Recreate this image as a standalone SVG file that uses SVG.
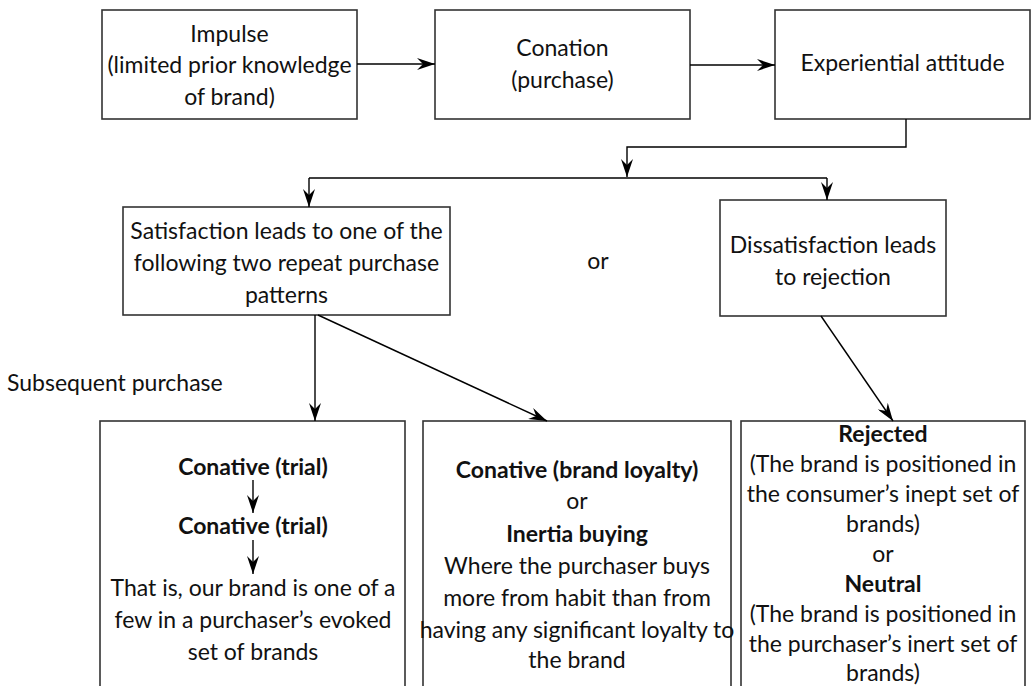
<svg xmlns="http://www.w3.org/2000/svg" width="1032" height="686" viewBox="0 0 1032 686">
<defs>
<marker id="ah" markerUnits="userSpaceOnUse" markerWidth="18" markerHeight="12" viewBox="0 0 18 12" refX="18" refY="6" orient="auto">
<path d="M0,0 L18,6 L0,12 L6,6 Z" fill="#000"/>
</marker>
<style>
.box{fill:#fff;stroke:#333;stroke-width:1.6}
.t{font-family:Lato,"Open Sans","Liberation Sans",sans-serif;font-size:23px;fill:#111;text-anchor:middle}
.b{font-weight:bold}
.l{text-anchor:start}
.c{fill:none;stroke:#000;stroke-width:1.4}
.a{marker-end:url(#ah)}
</style>
</defs>
<rect width="1032" height="686" fill="#fff"/>
<g id="impulse">
<rect class="box" x="102" y="10" width="255" height="109"/>
<text class="t" x="229.5" y="42">Impulse</text>
<text class="t" x="229.5" y="73">(limited prior knowledge</text>
<text class="t" x="229.5" y="105">of brand)</text>
</g>
<g id="conation">
<rect class="box" x="435" y="10" width="255" height="109"/>
<text class="t" x="562.5" y="56">Conation</text>
<text class="t" x="562.5" y="88">(purchase)</text>
</g>
<g id="experiential">
<rect class="box" x="775" y="10" width="255" height="109"/>
<text class="t" x="902.5" y="71">Experiential attitude</text>
</g>
<g id="satisfaction">
<rect class="box" x="123" y="207" width="327" height="108"/>
<text class="t" x="286.5" y="239">Satisfaction leads to one of the</text>
<text class="t" x="286.5" y="271">following two repeat purchase</text>
<text class="t" x="286.5" y="303">patterns</text>
</g>
<g id="or-label">
<text class="t" x="598" y="269">or</text>
</g>
<g id="dissatisfaction">
<rect class="box" x="720" y="200" width="226" height="116"/>
<text class="t" x="833" y="253">Dissatisfaction leads</text>
<text class="t" x="833" y="285">to rejection</text>
</g>
<g id="subsequent-label">
<text class="t l" x="7" y="391">Subsequent purchase</text>
</g>
<g id="trial">
<rect class="box" x="100" y="421" width="305" height="290"/>
<text class="t b" x="253" y="475">Conative (trial)</text>
<text class="t b" x="253" y="534">Conative (trial)</text>
<text class="t" x="253" y="596">That is, our brand is one of a</text>
<text class="t" x="253" y="628">few in a purchaser’s evoked</text>
<text class="t" x="253" y="660">set of brands</text>
</g>
<g id="loyalty">
<rect class="box" x="423" y="421" width="308" height="290"/>
<text class="t b" x="577" y="478">Conative (brand loyalty)</text>
<text class="t" x="577" y="509">or</text>
<text class="t b" x="577" y="542">Inertia buying</text>
<text class="t" x="577" y="574">Where the purchaser buys</text>
<text class="t" x="577" y="606">more from habit than from</text>
<text class="t" x="577" y="638">having any significant loyalty to</text>
<text class="t" x="577" y="668">the brand</text>
</g>
<g id="rejected">
<rect class="box" x="741" y="421" width="284" height="290"/>
<text class="t b" x="883" y="442">Rejected</text>
<text class="t" x="883" y="472">(The brand is positioned in</text>
<text class="t" x="883" y="502">the consumer’s inept set of</text>
<text class="t" x="883" y="532">brands)</text>
<text class="t" x="883" y="562">or</text>
<text class="t b" x="883" y="592">Neutral</text>
<text class="t" x="883" y="622">(The brand is positioned in</text>
<text class="t" x="883" y="652">the purchaser’s inert set of</text>
<text class="t" x="883" y="681">brands)</text>
</g>
<g id="connectors">
<line class="c a" x1="357" y1="64" x2="435" y2="64"/>
<line class="c a" x1="690" y1="65" x2="775" y2="65"/>
<polyline class="c a" points="906,119 906,147 627,147 627,177"/>
<polyline class="c" points="309,178 827,178"/>
<line class="c a" x1="309" y1="178" x2="309" y2="207"/>
<line class="c a" x1="827" y1="178" x2="827" y2="200"/>
<line class="c a" x1="315" y1="315" x2="315" y2="421"/>
<line class="c a" x1="318" y1="315" x2="547" y2="421"/>
<line class="c a" x1="821" y1="316" x2="893" y2="421"/>
<line class="c a" x1="253" y1="480" x2="253" y2="513"/>
<line class="c a" x1="253" y1="540" x2="253" y2="574"/>
</g>
</svg>
